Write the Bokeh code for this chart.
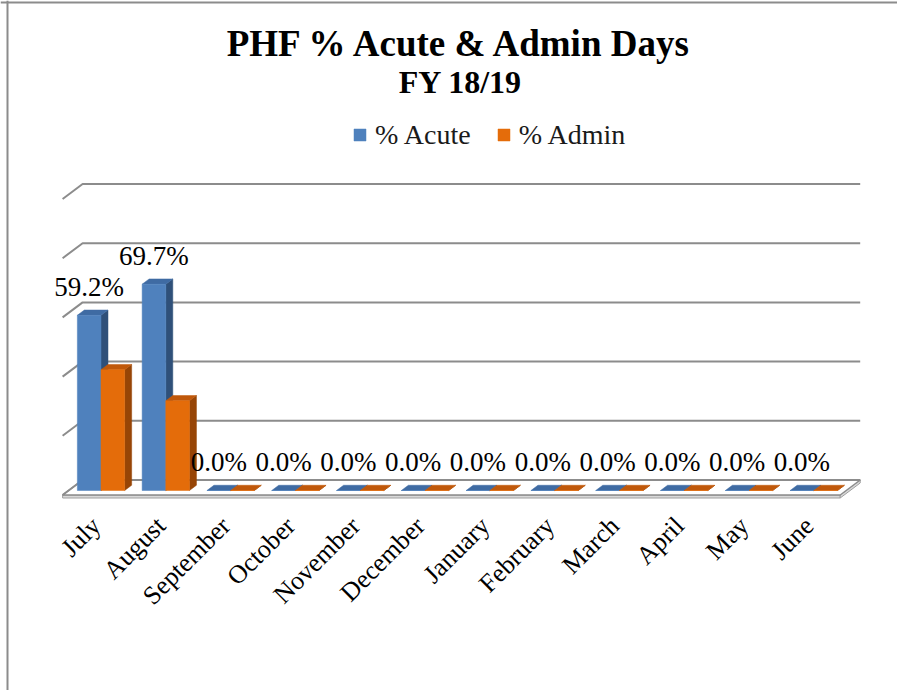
import math
from bokeh.plotting import figure
from bokeh.models import Range1d, Label, Legend, LegendItem, Span
from bokeh.embed import file_html
from bokeh.resources import INLINE
from bokeh.core.properties import value

# ---------------- data ----------------
months = ["July", "August", "September", "October", "November", "December",
          "January", "February", "March", "April", "May", "June"]
acute = [59.2, 69.7, 0.0, 0.0, 0.0, 0.0, 0.0, 0.0, 0.0, 0.0, 0.0, 0.0]
admin = [40.8, 30.3, 0.0, 0.0, 0.0, 0.0, 0.0, 0.0, 0.0, 0.0, 0.0, 0.0]
y_ticks = [0, 20, 40, 60, 80, 100]
series_names = ["% Acute", "% Admin"]
title_text = "PHF % Acute & Admin Days"
subtitle_text = "FY 18/19"

# ---------------- geometry (pixels per data unit) ----------------
W, H = 897, 690
PX_X = 64.8            # px per category
PX_Y = 2.96            # px per percent
DX = 20 / PX_X         # depth offset (x) in data units
DY = 15 / PX_Y         # depth offset (y) in data units
x0 = -94.5 / PX_X
y_top = 494.5 / PX_Y

FONT = "Liberation Serif"
n = len(months)
BAR_W = 0.365
A, B = 0.3, 0.65       # bar depth span
MID = 0.3375           # middle of em box above the baseline (fraction of font size)


def P(X, V, d):
    return X + d * DX, V + d * DY


def poly(pts):
    return [q[0] for q in pts], [q[1] for q in pts]


p = figure(width=W, height=H,
           x_range=Range1d(x0, x0 + W / PX_X),
           y_range=Range1d(y_top - H / PX_Y, y_top),
           output_backend="svg", toolbar_location=None,
           x_axis_location=None, y_axis_location=None,
           min_border=0, outline_line_color=None,
           background_fill_color="white", border_fill_color="white")
p.xgrid.visible = False
p.ygrid.visible = False

# ---------------- floor slab ----------------
fl_top = poly([P(-0.5, 0, 0), P(n - 0.5, 0, 0), P(n - 0.5, 0, 1), P(-0.5, 0, 1)])
th = 3 / PX_Y
fl_front = poly([P(-0.5, 0, 0), P(n - 0.5, 0, 0), P(n - 0.5, -th, 0), P(-0.5, -th, 0)])
fl_side = poly([P(n - 0.5, 0, 0), P(n - 0.5, 0, 1), P(n - 0.5, -th, 1), P(n - 0.5, -th, 0)])
p.patches(xs=[fl_front[0], fl_side[0]], ys=[fl_front[1], fl_side[1]],
          fill_color="#d9d9d9", line_color="#a0a0a0", line_width=1)
p.patch(x=fl_top[0], y=fl_top[1], fill_color="white", line_color="#8c8c8c", line_width=1.5)

# ---------------- gridlines on back wall + side stubs ----------------
gx, gy = [], []
for v in y_ticks:
    a = P(-0.5, v, 0)
    b = P(-0.5, v, 1)
    c = P(n - 0.5, v, 1)
    gx.append([a[0], b[0], c[0]])
    gy.append([a[1], b[1], c[1]])
p.multi_line(xs=gx, ys=gy, line_color="#8c8c8c", line_width=2)

# ---------------- 3D bars ----------------
def boxes(vals, offset):
    fr, tp, sd = ([], []), ([], []), ([], [])
    for i, v in enumerate(vals):
        x1 = i + offset
        x2 = x1 + BAR_W
        f = poly([P(x1, 0, A), P(x2, 0, A), P(x2, v, A), P(x1, v, A)])
        t = poly([P(x1, v, A), P(x2, v, A), P(x2, v, B), P(x1, v, B)])
        s = poly([P(x2, 0, A), P(x2, 0, B), P(x2, v, B), P(x2, v, A)])
        for dst, src in ((fr, f), (tp, t), (sd, s)):
            dst[0].append(src[0])
            dst[1].append(src[1])
    return fr, tp, sd


renderers = []
for vals, off, c_front, c_top, c_side in (
        (acute, -BAR_W, "#4F81BD", "#3F6BA3", "#2F5079"),
        (admin, 0.0, "#E46C0A", "#C0580A", "#974506")):
    fr, tp, sd = boxes(vals, off)
    p.patches(xs=sd[0], ys=sd[1], fill_color=c_side, line_color=c_side, line_width=0.5)
    p.patches(xs=tp[0], ys=tp[1], fill_color=c_top, line_color=c_top, line_width=0.5)
    r = p.patches(xs=fr[0], ys=fr[1], fill_color=c_front, line_color=c_front, line_width=0.5)
    renderers.append(r)

# ---------------- data labels (Acute series) ----------------
LAB_FS = 27
lab_x = [i - BAR_W / 2 + A * DX for i in range(n)]
lab_y = [v + A * DY + (19 + MID * LAB_FS) / PX_Y for v in acute]
lab_t = [f"{v:.1f}%" for v in acute]
p.text(x=lab_x, y=lab_y, text=lab_t, text_align="center", text_baseline="middle",
       text_font=value(FONT), text_font_size=f"{LAB_FS}px", text_color="black")

# ---------------- category labels ----------------
cat_x = [i + 0.02 for i in range(n)]
cat_y = [-(521 - 494.5) / PX_Y] * n
p.text(x=cat_x, y=cat_y, text=months, angle=math.pi / 4,
       text_align="right", text_baseline="middle",
       text_font=value(FONT), text_font_size="26px", text_color="black")

# ---------------- legend ----------------
legend = Legend(items=[LegendItem(label=series_names[0], renderers=[renderers[0]]),
                       LegendItem(label=series_names[1], renderers=[renderers[1]])],
                orientation="horizontal", location=(352, H - 150.5),
                glyph_width=15, glyph_height=15, label_standoff=8, spacing=25,
                padding=0, margin=0, border_line_alpha=0, background_fill_alpha=0,
                label_text_font=FONT, label_text_font_size="28px",
                label_text_color="#1a1a1a")
p.add_layout(legend)

# ---------------- titles ----------------
T_FS, S_FS = 37, 32
p.add_layout(Label(x=460, y=H - (55 - MID * T_FS), x_units="screen", y_units="screen",
                   text=title_text, text_align="center", text_baseline="middle",
                   text_font=FONT, text_font_size=f"{T_FS}px", text_font_style="bold",
                   text_color="black"))
p.add_layout(Label(x=460, y=H - (92 - MID * S_FS), x_units="screen", y_units="screen",
                   text=subtitle_text, text_align="center", text_baseline="middle",
                   text_font=FONT, text_font_size=f"{S_FS}px", text_font_style="bold",
                   text_color="black"))

# ---------------- chart border (left / top) ----------------
p.add_layout(Span(location=x0 + 7 / PX_X, dimension="height", line_color="#8c8c8c", line_width=2))
p.add_layout(Span(location=y_top - 2 / PX_Y, dimension="width", line_color="#8c8c8c", line_width=2))

open("out.html", "w").write(file_html(p, INLINE))
